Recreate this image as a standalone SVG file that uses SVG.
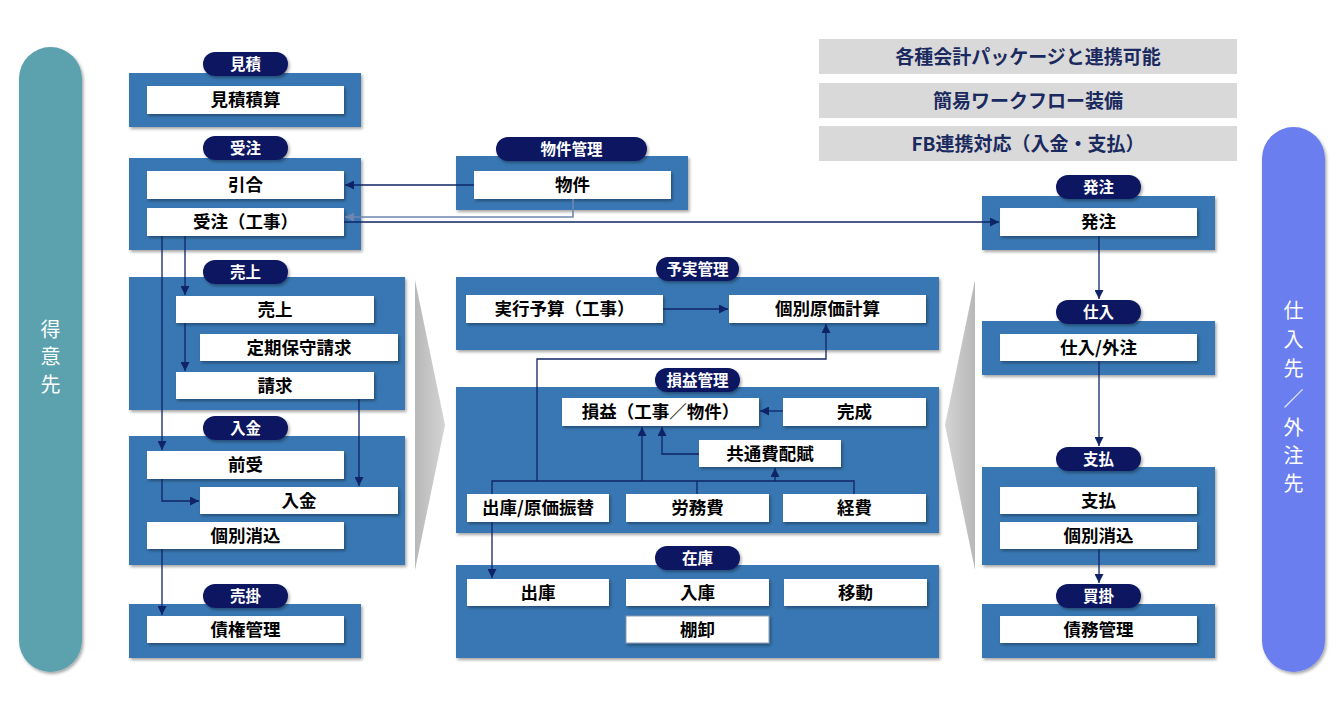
<svg xmlns="http://www.w3.org/2000/svg" width="1344" height="718" viewBox="0 0 1344 718">
<defs>
<filter id="sh" x="-10%" y="-20%" width="130%" height="150%"><feDropShadow dx="1.5" dy="2" stdDeviation="1.5" flood-color="#000" flood-opacity="0.35"/></filter>
<linearGradient id="gl" x1="0" y1="0" x2="1" y2="0"><stop offset="0" stop-color="#b8b8b8"/><stop offset="1" stop-color="#d4d4d4"/></linearGradient>
<linearGradient id="gr" x1="1" y1="0" x2="0" y2="0"><stop offset="0" stop-color="#b8b8b8"/><stop offset="1" stop-color="#d4d4d4"/></linearGradient>
<marker id="ar" viewBox="0 0 10 10" refX="10" refY="5" markerWidth="9" markerHeight="9" markerUnits="userSpaceOnUse" orient="auto"><path d="M0,0 L10,5 L0,10 z" fill="#0E2466"/></marker>
<marker id="arl" viewBox="0 0 10 10" refX="10" refY="5" markerWidth="9" markerHeight="9" markerUnits="userSpaceOnUse" orient="auto"><path d="M0,0 L10,5 L0,10 z" fill="#6F86B0"/></marker>
</defs>
<style>
.sec{fill:#3777B3;filter:url(#sh)}
.bd{fill:#0D1761;filter:url(#sh)}
.bt{fill:#fff;font-family:"Noto Sans CJK JP","Noto Sans CJK SC",sans-serif;font-weight:700;font-size:15.5px;text-anchor:middle;dominant-baseline:central}
.nd{fill:#fff;filter:url(#sh)}
.nt{fill:#000;font-family:"Noto Sans CJK JP","Noto Sans CJK SC",sans-serif;font-weight:700;font-size:17.5px;text-anchor:middle;dominant-baseline:central}
.gb{fill:#D9D9D9}
.gt{fill:#1B2A5E;font-family:"Noto Sans CJK JP","Noto Sans CJK SC",sans-serif;font-weight:700;font-size:19px;text-anchor:middle;dominant-baseline:central}
.vt{fill:#fff;font-family:"Noto Sans CJK JP","Noto Sans CJK SC",sans-serif;font-size:20px;text-anchor:middle;dominant-baseline:central}
text{transform:translateY(-1.5px)}
.cn{fill:none;stroke:#0E2466;stroke-width:1.3}
.cl{fill:none;stroke:#6F86B0;stroke-width:1.6}
</style>
<rect width="1344" height="718" fill="#fff"/>

<!-- side pills -->
<g id="customer">
<rect x="19" y="47" width="63" height="625" rx="31.5" fill="#5BA2AE" filter="url(#sh)"/>
<text class="vt" x="50.5" y="330">得</text>
<text class="vt" x="50.5" y="357">意</text>
<text class="vt" x="50.5" y="385">先</text>
</g>
<g id="supplier">
<rect x="1262" y="127" width="63" height="545" rx="31.5" fill="#6A7EEF" filter="url(#sh)"/>
<text class="vt" x="1293.5" y="311">仕</text>
<text class="vt" x="1293.5" y="340">入</text>
<text class="vt" x="1293.5" y="369">先</text>
<text class="vt" x="1293.5" y="399">／</text>
<text class="vt" x="1293.5" y="428">外</text>
<text class="vt" x="1293.5" y="456">注</text>
<text class="vt" x="1293.5" y="484">先</text>
</g>

<!-- features -->
<g id="features">
<rect class="gb" x="819" y="39" width="418" height="35"/>
<text class="gt" x="1028" y="56.5">各種会計パッケージと連携可能</text>
<rect class="gb" x="819" y="83" width="418" height="35"/>
<text class="gt" x="1028" y="100.5">簡易ワークフロー装備</text>
<rect class="gb" x="819" y="126" width="418" height="35"/>
<text class="gt" x="1028" y="143.5">FB連携対応（入金・支払）</text>
</g>

<!-- chevrons -->
<polygon points="415,280 445,425 415,570" fill="url(#gl)"/>
<polygon points="975,280 945,425 975,570" fill="url(#gr)"/>

<!-- 見積 -->
<g id="mitsumori">
<rect class="sec" x="129" y="73" width="232" height="54"/>
<rect class="nd" x="147" y="86" width="197" height="28"/><text class="nt" x="245.5" y="100">見積積算</text>
<rect class="bd" x="203" y="52" width="85" height="24" rx="12"/><text class="bt" x="245.5" y="64">見積</text>
</g>
<!-- 受注 -->
<g id="juchu">
<rect class="sec" x="129" y="158" width="232" height="92"/>
<rect class="nd" x="147" y="171" width="197" height="28"/><text class="nt" x="245.5" y="185">引合</text>
<rect class="nd" x="147" y="208" width="197" height="28"/><text class="nt" x="245.5" y="222">受注（工事）</text>
<rect class="bd" x="203" y="136" width="85" height="24" rx="12"/><text class="bt" x="245.5" y="148">受注</text>
</g>
<!-- 物件管理 -->
<g id="bukken">
<rect class="sec" x="456" y="156" width="232" height="54"/>
<rect class="nd" x="474" y="171" width="197" height="28"/><text class="nt" x="572.5" y="185">物件</text>
<rect class="bd" x="496" y="137" width="151" height="24" rx="12"/><text class="bt" x="571.5" y="149">物件管理</text>
</g>
<!-- 売上 -->
<g id="uriage">
<rect class="sec" x="129" y="277" width="276" height="133"/>
<rect class="nd" x="176" y="296" width="198" height="27"/><text class="nt" x="275" y="309.5">売上</text>
<rect class="nd" x="200" y="334" width="198" height="27"/><text class="nt" x="299" y="347.5">定期保守請求</text>
<rect class="nd" x="176" y="372" width="198" height="27"/><text class="nt" x="275" y="385.5">請求</text>
<rect class="bd" x="203" y="260" width="85" height="24" rx="12"/><text class="bt" x="245.5" y="272">売上</text>
</g>
<!-- 入金 -->
<g id="nyukin">
<rect class="sec" x="129" y="436" width="276" height="129"/>
<rect class="nd" x="147" y="451" width="197" height="28"/><text class="nt" x="245.5" y="465">前受</text>
<rect class="nd" x="200" y="487" width="198" height="27"/><text class="nt" x="299" y="500.5">入金</text>
<rect class="nd" x="147" y="522" width="197" height="27"/><text class="nt" x="245.5" y="535.5">個別消込</text>
<rect class="bd" x="203" y="416" width="85" height="24" rx="12"/><text class="bt" x="245.5" y="428">入金</text>
</g>
<!-- 売掛 -->
<g id="urikake">
<rect class="sec" x="129" y="604" width="232" height="54"/>
<rect class="nd" x="147" y="616" width="197" height="27"/><text class="nt" x="245.5" y="629.5">債権管理</text>
<rect class="bd" x="203" y="584" width="85" height="24" rx="12"/><text class="bt" x="245.5" y="596">売掛</text>
</g>
<!-- 予実管理 -->
<g id="yojitsu">
<rect class="sec" x="456" y="277" width="483" height="73"/>
<rect class="nd" x="466" y="295" width="197" height="28"/><text class="nt" x="564.5" y="309">実行予算（工事）</text>
<rect class="nd" x="729" y="295" width="197" height="28"/><text class="nt" x="827.5" y="309">個別原価計算</text>
<rect class="bd" x="656" y="257" width="83" height="24" rx="12"/><text class="bt" x="697.5" y="269">予実管理</text>
</g>
<!-- 損益管理 -->
<g id="soneki">
<rect class="sec" x="456" y="387" width="483" height="146"/>
<rect class="nd" x="562" y="398" width="197" height="28"/><text class="nt" x="660.5" y="412">損益（工事／物件）</text>
<rect class="nd" x="783" y="398" width="143" height="28"/><text class="nt" x="854.5" y="412">完成</text>
<rect class="nd" x="699" y="440" width="142" height="27"/><text class="nt" x="770" y="453.5">共通費配賦</text>
<rect class="nd" x="467" y="494" width="142" height="28"/><text class="nt" x="538" y="508">出庫/原価振替</text>
<rect class="nd" x="626" y="494" width="143" height="28"/><text class="nt" x="697.5" y="508">労務費</text>
<rect class="nd" x="783" y="494" width="143" height="28"/><text class="nt" x="854.5" y="508">経費</text>
<rect class="bd" x="655" y="368" width="85" height="24" rx="12"/><text class="bt" x="697.5" y="380">損益管理</text>
</g>
<!-- 在庫 -->
<g id="zaiko">
<rect class="sec" x="456" y="565" width="483" height="93"/>
<rect class="nd" x="467" y="579" width="142" height="27"/><text class="nt" x="538" y="592.5">出庫</text>
<rect class="nd" x="626" y="579" width="143" height="27"/><text class="nt" x="697.5" y="592.5">入庫</text>
<rect class="nd" x="784" y="579" width="143" height="27"/><text class="nt" x="855.5" y="592.5">移動</text>
<rect class="nd" x="626" y="616" width="143" height="27" stroke="#8A9AB0" stroke-width="1"/><text class="nt" x="697.5" y="629.5">棚卸</text>
<rect class="bd" x="655" y="546" width="85" height="24" rx="12"/><text class="bt" x="697.5" y="558">在庫</text>
</g>
<!-- 発注 -->
<g id="hatchu">
<rect class="sec" x="982" y="196" width="233" height="54"/>
<rect class="nd" x="1000" y="208" width="197" height="28"/><text class="nt" x="1098.5" y="222">発注</text>
<rect class="bd" x="1056" y="175" width="85" height="24" rx="12"/><text class="bt" x="1098.5" y="187">発注</text>
</g>
<!-- 仕入 -->
<g id="shiire">
<rect class="sec" x="982" y="321" width="233" height="54"/>
<rect class="nd" x="1000" y="334" width="197" height="27"/><text class="nt" x="1098.5" y="347.5">仕入/外注</text>
<rect class="bd" x="1056" y="300" width="85" height="24" rx="12"/><text class="bt" x="1098.5" y="312">仕入</text>
</g>
<!-- 支払 -->
<g id="shiharai">
<rect class="sec" x="982" y="467" width="233" height="98"/>
<rect class="nd" x="1000" y="487" width="197" height="27"/><text class="nt" x="1098.5" y="500.5">支払</text>
<rect class="nd" x="1000" y="522" width="197" height="27"/><text class="nt" x="1098.5" y="535.5">個別消込</text>
<rect class="bd" x="1056" y="447" width="85" height="24" rx="12"/><text class="bt" x="1098.5" y="459">支払</text>
</g>
<!-- 買掛 -->
<g id="kaikake">
<rect class="sec" x="982" y="604" width="233" height="54"/>
<rect class="nd" x="1000" y="616" width="197" height="27"/><text class="nt" x="1098.5" y="629.5">債務管理</text>
<rect class="bd" x="1056" y="584" width="85" height="24" rx="12"/><text class="bt" x="1098.5" y="596">買掛</text>
</g>

<!-- connectors -->
<g id="connectors">
<path class="cn" d="M474,185 H345" marker-end="url(#ar)"/>
<path class="cl" d="M573,199 V217 H345" marker-end="url(#arl)"/>
<path class="cn" d="M344,222 H999" marker-end="url(#ar)"/>
<path class="cn" d="M162,236 V450" marker-end="url(#ar)"/>
<path class="cn" d="M185,236 V295" marker-end="url(#ar)"/>
<path class="cn" d="M185,323 V371" marker-end="url(#ar)"/>
<path class="cn" d="M359,399 V486" marker-end="url(#ar)"/>
<path class="cn" d="M162,479 V501 H199" marker-end="url(#ar)"/>
<path class="cn" d="M162,549 V615" marker-end="url(#ar)"/>
<path class="cn" d="M663,309 H728" marker-end="url(#ar)"/>
<path class="cn" d="M783,411 H760" marker-end="url(#ar)"/>
<path class="cn" d="M492,494 V481 H854 V494 M697,481 V494"/>
<path class="cn" d="M642,481 V427" marker-end="url(#ar)"/>
<path class="cn" d="M775,481 V468" marker-end="url(#ar)"/>
<path class="cn" d="M699,454 H662 V427" marker-end="url(#ar)"/>
<path class="cn" d="M537,481 V359 H826 V324" marker-end="url(#ar)"/>
<path class="cn" d="M492,522 V578" marker-end="url(#ar)"/>
<path class="cn" d="M1099,236 V299" marker-end="url(#ar)"/>
<path class="cn" d="M1099,361 V446" marker-end="url(#ar)"/>
<path class="cn" d="M1099,549 V583" marker-end="url(#ar)"/>
</g>
</svg>
